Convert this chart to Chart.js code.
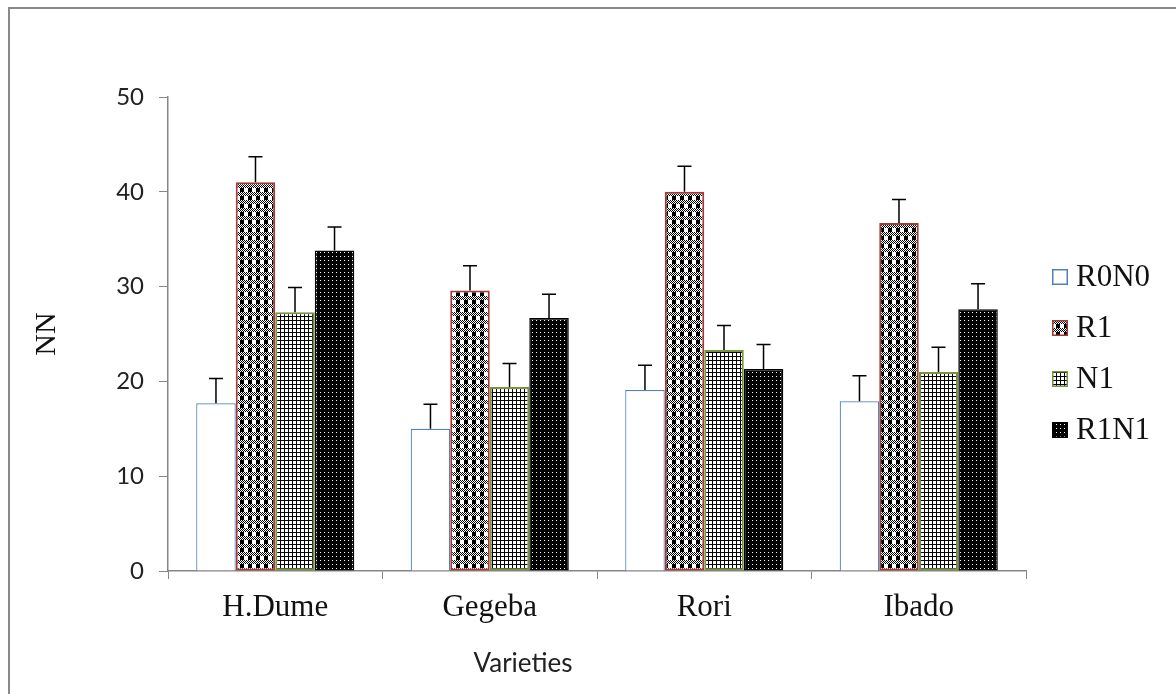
<!DOCTYPE html>
<html>
<head>
<meta charset="utf-8">
<script src="https://cdn.jsdelivr.net/npm/chart.js@4.4.1/dist/chart.umd.min.js"></script>
<style>
  html, body { margin: 0; padding: 0; background: #fff; }
  #wrap { position: relative; width: 1176px; height: 694px; overflow: hidden; }
  #frame { position: absolute; left: 8px; top: 7px; width: 1300px; height: 800px;
           border-left: 2px solid #8a8a8a; border-top: 2px solid #8a8a8a; box-sizing: border-box; }
  canvas { position: absolute; left: 0; top: 0; }
</style>
</head>
<body>
<div id="wrap">
  <div id="frame"></div>
  <canvas id="c" width="1176" height="694"></canvas>
</div>
<script>
// Varieties on the x axis, one series per treatment
const categories = ['H.Dume', 'Gegeba', 'Rori', 'Ibado'];
const seriesNames = ['R0N0', 'R1', 'N1', 'R1N1'];

const valuesR0N0 = [17.7, 15.0, 19.1, 17.9];
const valuesR1   = [41.0, 29.6, 40.0, 36.7];
const valuesN1   = [27.3, 19.4, 23.3, 21.0];
const valuesR1N1 = [33.8, 26.7, 21.3, 27.6];

// upward error bar lengths
const errR0N0 = [2.6, 2.6, 2.6, 2.7];
const errR1   = [2.7, 2.6, 2.7, 2.5];
const errN1   = [2.6, 2.5, 2.6, 2.6];
const errR1N1 = [2.5, 2.5, 2.6, 2.7];

const yTicks = [0, 10, 20, 30, 40, 50];

// ---- fill patterns (bitmap tiles, 1 = foreground) ----
function makePattern(rows, fg, bg) {
  const h = rows.length, w = rows[0].length;
  const cv = document.createElement('canvas');
  cv.width = w; cv.height = h;
  const cx = cv.getContext('2d');
  cx.fillStyle = bg; cx.fillRect(0, 0, w, h);
  cx.fillStyle = fg;
  for (let y = 0; y < h; y++)
    for (let x = 0; x < w; x++)
      if (rows[y][x] === '1') cx.fillRect(x, y, 1, 1);
  return document.getElementById('c').getContext('2d').createPattern(cv, 'repeat');
}
const plaid = makePattern([
  '10101010',
  '01010101',
  '10101010',
  '01010101',
  '11110000',
  '11110000',
  '11110000',
  '11110000'
], '#000', '#fff');
const smallGrid = makePattern([
  '1111',
  '1000',
  '1000',
  '1000'
], '#000', '#fff');
const darkDots = makePattern([
  '0111',
  '1111',
  '1111',
  '1111'
], '#000', '#fff');

const errorSets = [errR0N0, errR1, errN1, errR1N1];

// error bars drawn through the value scale
const errorBars = {
  id: 'errorBars',
  afterDatasetsDraw(chart) {
    const ctx = chart.ctx, ys = chart.scales.y;
    ctx.save();
    ctx.strokeStyle = '#000';
    ctx.lineWidth = 1.5;
    chart.data.datasets.forEach((ds, i) => {
      const meta = chart.getDatasetMeta(i);
      meta.data.forEach((bar, j) => {
        const top = ys.getPixelForValue(ds.data[j]);
        const end = ys.getPixelForValue(ds.data[j] + ds.errors[j]);
        ctx.beginPath();
        ctx.moveTo(bar.x, top); ctx.lineTo(bar.x, end);
        ctx.moveTo(bar.x - 7, end); ctx.lineTo(bar.x + 7, end);
        ctx.stroke();
      });
    });
    ctx.restore();
  }
};

// legend at the right, plus the x axis title
const sideLegend = {
  id: 'sideLegend',
  afterDraw(chart) {
    const ctx = chart.ctx;
    ctx.save();
    const x0 = 1052, y0 = 277, step = 51, box = 16;
    chart.data.datasets.forEach((ds, i) => {
      const cy = y0 + i * step;
      ctx.fillStyle = ds.backgroundColor;
      ctx.fillRect(x0, cy - box / 2, box, box);
      ctx.strokeStyle = ds.borderColor;
      ctx.lineWidth = 1.5;
      ctx.strokeRect(x0 + 0.75, cy - box / 2 + 0.75, box - 1.5, box - 1.5);
      ctx.fillStyle = '#111';
      ctx.font = '31px "Liberation Serif", "Times New Roman", serif';
      ctx.textAlign = 'left';
      ctx.textBaseline = 'middle';
      ctx.fillText(ds.label, 1076, cy + 1);
    });
    ctx.fillStyle = '#222';
    ctx.font = '26px Lato, "Open Sans", sans-serif';
    ctx.textAlign = 'center';
    ctx.textBaseline = 'middle';
    ctx.fillText('Varieties', 523, 664);
    ctx.restore();
  }
};

const fills = [
  { bg: '#ffffff', border: '#4f81bd', w: 1.2 },
  { bg: plaid, border: '#a83a36', w: 2 },
  { bg: smallGrid, border: '#77933c', w: 2 },
  { bg: darkDots, border: '#000000', w: 1.5 }
];
const seriesValues = [valuesR0N0, valuesR1, valuesN1, valuesR1N1];

new Chart(document.getElementById('c'), {
  type: 'bar',
  data: {
    labels: categories,
    datasets: seriesNames.map((name, i) => ({
      label: name,
      data: seriesValues[i],
      errors: errorSets[i],
      backgroundColor: fills[i].bg,
      borderColor: fills[i].border,
      borderWidth: fills[i].w,
      borderSkipped: i === 0 ? 'bottom' : false,
      barPercentage: 1.0,
      categoryPercentage: 0.737
    }))
  },
  options: {
    responsive: false,
    animation: false,
    devicePixelRatio: 1,
    layout: { padding: { top: 97, right: 150, bottom: 0, left: 0 } },
    plugins: { legend: { display: false }, tooltip: { enabled: false } },
    scales: {
      x: {
        grid: { drawOnChartArea: false, drawTicks: true, tickLength: 8, color: '#868686', offset: true },
        border: { color: '#868686', width: 1.5 },
        ticks: { color: '#111', padding: 10,
                 font: { family: '"Liberation Serif", "Times New Roman", serif', size: 31 } },
        afterFit(s) { s.height = 123; }
      },
      y: {
        min: 0, max: 50,
        afterBuildTicks(s) { s.ticks = yTicks.map(v => ({ value: v })); },
        grid: { drawOnChartArea: false, drawTicks: true, tickLength: 9, color: '#868686' },
        border: { color: '#868686', width: 1.5 },
        ticks: { color: '#222', padding: 15,
                 font: { family: 'Lato, "Open Sans", sans-serif', size: 24 } },
        title: { display: true, text: 'NN', color: '#111', padding: { top: 29, bottom: 0 },
                 font: { family: '"Liberation Serif", "Times New Roman", serif', size: 30 } },
        afterFit(s) { s.width = 168; }
      }
    }
  },
  plugins: [errorBars, sideLegend]
});
</script>
</body>
</html>
